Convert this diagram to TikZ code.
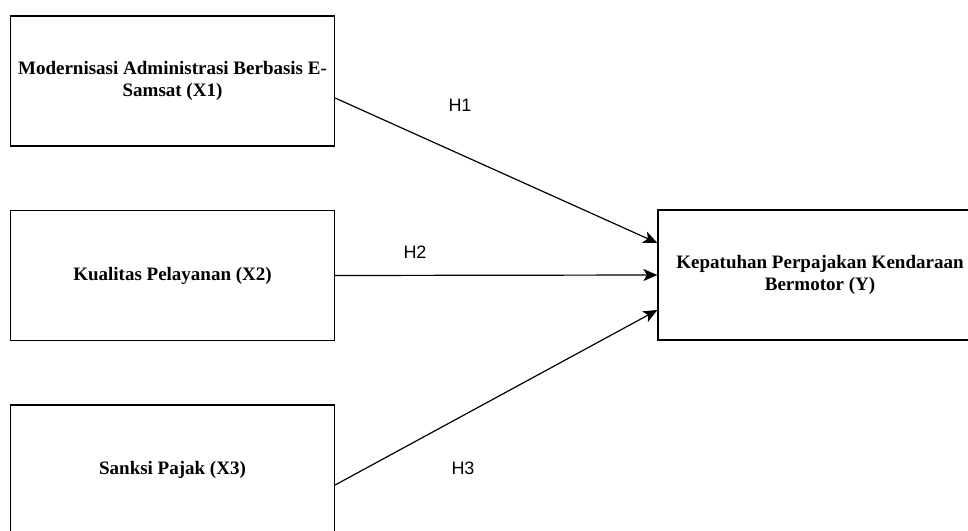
\documentclass[tikz,border=0pt]{standalone}
\usepackage{fontspec}
\setmainfont{Liberation Serif}
\newfontfamily\hfont{Liberation Sans}
\usetikzlibrary{arrows.meta}

\begin{document}
\begin{tikzpicture}[x=1pt,y=-1pt,->,>={Stealth[length=14pt,width=12pt,inset=3.5pt]},line width=1.2pt,
   var/.style={draw,rectangle,minimum width=324pt,minimum height=130pt,inner sep=0pt,align=center,font=\bfseries\fontsize{19}{22}\selectfont},
   hyp/.style={font=\hfont\fontsize{18}{20}\selectfont}]
   \useasboundingbox (0,0) rectangle (968,530);
   \clip (0,0) rectangle (968,530);
   \node[var] (x1) at (172.5,81) {Modernisasi Administrasi Berbasis E-\\Samsat (X1)};
   \node[var] (x2) at (172.5,275.5) {Kualitas Pelayanan (X2)};
   \node[var] (x3) at (172.5,470) {Sanksi Pajak (X3)};
   \node[var] (y) at (820,275) {Kepatuhan Perpajakan Kendaraan\\Bermotor (Y)};
   \node[hyp] (h1) at (460,105) {H1};
   \node[hyp] (h2) at (415,252) {H2};
   \node[hyp] (h3) at (463,468) {H3};
   \draw ([yshift=-17pt]x1.east) -- ([yshift=32pt]y.west);
   \draw (x2.east) -- (y.west);
   \draw ([yshift=-15pt]x3.east) -- ([yshift=-35pt]y.west);

\end{tikzpicture}
\end{document}
